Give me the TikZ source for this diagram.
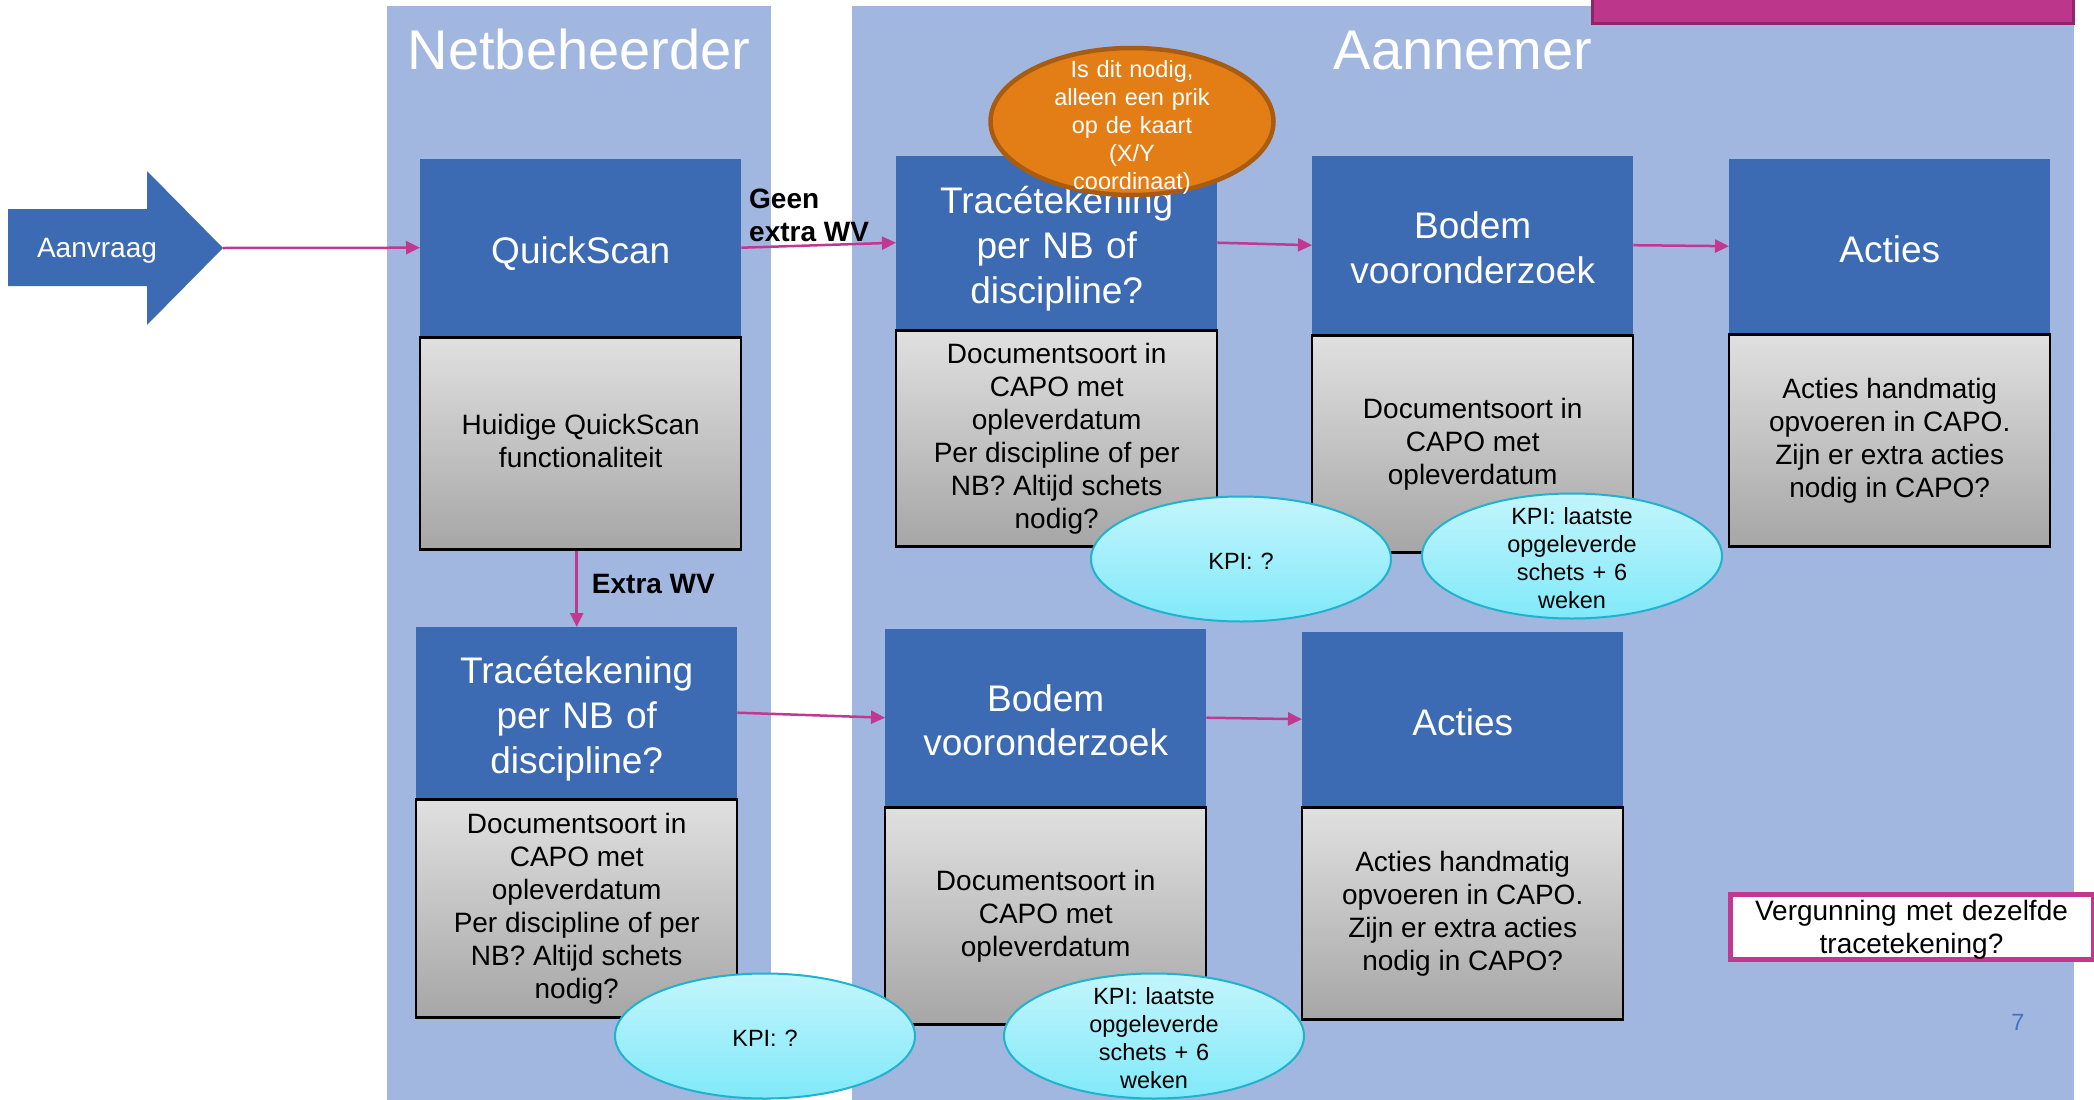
\documentclass[tikz,border=0pt]{standalone}
\usepackage{fontspec}
\setmainfont{Liberation Sans}
\usepackage{xcolor}
\usepackage{tikz}
\usetikzlibrary{positioning, shapes.geometric, arrows.meta}

\definecolor{laneblue}{HTML}{A1B7E0}
\definecolor{boxblue}{HTML}{3D6BB3}
\definecolor{greytop}{HTML}{E0E0E0}
\definecolor{greybot}{HTML}{A6A6A6}
\definecolor{flowpink}{HTML}{C2378F}
\definecolor{kpitop}{HTML}{C3F5FC}
\definecolor{kpibot}{HTML}{80E9F9}
\definecolor{kpiedge}{HTML}{20B2CF}
\definecolor{prikfill}{HTML}{E37E17}
\definecolor{prikedge}{HTML}{A85C12}
\definecolor{pinkbox}{HTML}{BC368C}
\definecolor{pinkedge}{HTML}{8E2566}
\definecolor{pagenum}{HTML}{4472C4}

% line box as in the slide: ascent and descent of the font
\newcommand{\pptstrut}[1][0pt]{\rule[-0.212em]{0pt}{\dimexpr1.117em+#1\relax}}

\begin{document}
\begin{tikzpicture}[x=1pt,y=-1pt,
    ppt text/.style={execute at begin node={\pptstrut[#1]},execute at end node=\pptstrut},
    ppt text/.default=0pt,
    head node/.style={rectangle,fill=boxblue,text=white,anchor=north west,minimum width=321pt,minimum height=175pt,text width=321pt,inner sep=0pt,align=center,ppt text=6pt,font=\fontsize{37}{44.6}\selectfont},
    body node/.style={rectangle,draw=black,line width=2.5pt,top color=greytop,bottom color=greybot,minimum width=321pt,minimum height=214pt,inner sep=0pt,align=center,ppt text,font=\fontsize{28}{33}\selectfont},
    kpi node/.style={ellipse,draw=kpiedge,line width=2pt,top color=kpitop,bottom color=kpibot,minimum width=300pt,minimum height=125pt,inner sep=0pt},
    kpi text/.style={align=center,text width=220pt,inner sep=0pt,ppt text=5pt,font=\fontsize{23.5}{28}\selectfont},
    flow/.style={draw=flowpink,line width=2.5pt,-{Triangle[length=14pt,width=13pt]}},
    wv label/.style={inner sep=0pt,align=left,ppt text,font=\bfseries\fontsize{28}{32.5}\selectfont}]
\useasboundingbox (0,0) rectangle (2094,1100);
\fill[white] (0,0) rectangle (2094,1100);

% swimlanes
\foreach \name/\xa/\xb/\tx in {Netbeheerder/387/771/579, Aannemer/852/2074/1463}
   {\fill[laneblue] (\xa,6) rectangle (\xb,1100);
    \node[text=white,ppt text,font=\fontsize{56}{60}\selectfont] (\name) at (\tx,50) {\name};}

\draw[pinkedge,fill=pinkbox,line width=3pt] (1592,-20) rectangle (2073,23);

% aanvraag
\fill[boxblue] (8,209) -- (147,209) -- (147,171) -- (223,248) -- (147,325) -- (147,286) -- (8,286) -- cycle;
\node[text=white,ppt text,font=\fontsize{28}{33}\selectfont] (Aanvraag) at (97,248) {Aanvraag};
\coordinate (AanvraagTip) at (223,248);

% upper row
\node[head node,minimum height=177pt] (QS) at (420,159) {QuickScan};
\node[body node,minimum height=212pt] (QSBody) [below=0pt of QS] {Huidige QuickScan\\functionaliteit};

\node[head node,minimum height=173pt] (TraceA) at (896,156) {Tracétekening\\per NB of\\discipline?};
\node[body node,minimum height=216pt] (TraceABody) [below=0pt of TraceA] {Documentsoort in\\CAPO met\\opleverdatum\\Per discipline of per\\NB? Altijd schets\\nodig?};

\node[head node,minimum height=178pt] (BodemA) at (1312,156) {Bodem\\vooronderzoek};
\node[body node,minimum height=217pt] (BodemABody) [below=0pt of BodemA] {Documentsoort in\\CAPO met\\opleverdatum};

\node[head node,minimum height=174pt] (ActiesA) at (1729,159) {Acties};
\node[body node,minimum height=212pt] (ActiesABody) [below=0pt of ActiesA] {Acties handmatig\\opvoeren in CAPO.\\Zijn er extra acties\\nodig in CAPO?};

% lower row
\node[head node,minimum height=171pt] (TraceB) at (416,627) {Tracétekening\\per NB of\\discipline?};
\node[body node,minimum height=218pt] (TraceBBody) [below=0pt of TraceB] {Documentsoort in\\CAPO met\\opleverdatum\\Per discipline of per\\NB? Altijd schets\\nodig?};

\node[head node,minimum height=177pt] (BodemB) at (885,629) {Bodem\\vooronderzoek};
\node[body node,minimum height=217pt] (BodemBBody) [below=0pt of BodemB] {Documentsoort in\\CAPO met\\opleverdatum};

\node[head node,minimum height=174pt] (ActiesB) at (1302,632) {Acties};
\node[body node,minimum height=212pt] (ActiesBBody) [below=0pt of ActiesB] {Acties handmatig\\opvoeren in CAPO.\\Zijn er extra acties\\nodig in CAPO?};

% KPI ellipses
\foreach \name/\cx/\cy/\txt in {KpiTraceA/1241/559/{KPI: ?}, KpiBodemA/1572/556/{KPI: laatste\\opgeleverde\\schets + 6\\weken}, KpiTraceB/765/1036/{KPI: ?}, KpiBodemB/1154/1036/{KPI: laatste\\opgeleverde\\schets + 6\\weken}}
   {\node[kpi node] (\name) at (\cx,\cy) {};
    \node[kpi text] (\name-text) at (\name) {\txt};}

\node[ellipse,draw=prikedge,fill=prikfill,line width=4.5pt,minimum width=283pt,minimum height=147pt,inner sep=0pt] (Prik) at (1132,121.5) {};
\node[kpi text,ppt text=8pt,text=white] (PrikText) at (Prik) {Is dit nodig,\\alleen een prik\\op de kaart\\(X/Y\\coordinaat)};

% connectors
\draw[flow] (AanvraagTip) -- (QS.west);
\draw[flow] (QS.east) -- (TraceA.west);
\draw[flow] (TraceA.east) -- (BodemA.west);
\draw[flow] (BodemA.east) -- (ActiesA.west);
\draw[flow] (QSBody.south -| TraceB.north) -- node[wv label,pos=0.43,right=14pt] (ExtraWV) {Extra WV} (TraceB.north);
\draw[flow] (TraceB.east) -- (BodemB.west);
\draw[flow] (BodemB.east) -- (ActiesB.west);

\node[wv label,anchor=west] (GeenWV) at (749,218) {Geen\\extra WV};

\node[draw=flowpink,fill=white,line width=5pt,minimum width=363pt,minimum height=62pt,text width=363pt,inner sep=0pt,align=center,font=\fontsize{28}{33}\selectfont] (Vergunning) at (1911.5,927) {\pptstrut Vergunning met dezelfde\\tracetekening?\pptstrut};

\node[text=pagenum,ppt text,font=\fontsize{23.5}{28}\selectfont] (PageNum) at (2018,1022) {7};
\end{tikzpicture}
\end{document}
